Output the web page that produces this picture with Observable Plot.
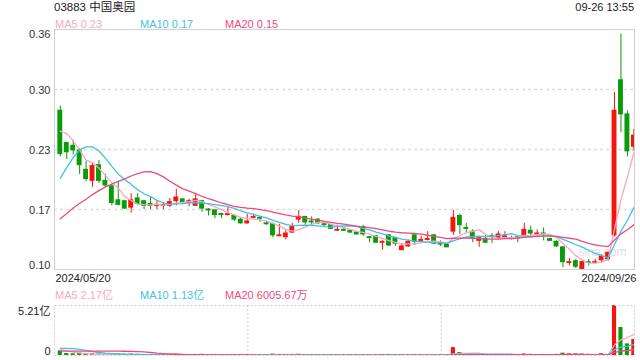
<!DOCTYPE html>
<html><head><meta charset="utf-8">
<script src="https://cdn.jsdelivr.net/npm/d3@7"></script>
<script src="https://cdn.jsdelivr.net/npm/@observablehq/plot@0.6"></script>
<style>
body{margin:0;background:#fff;font-family:"Liberation Sans",Arial,"Noto Sans CJK SC",sans-serif;}
#wrap{position:relative;width:640px;height:360px;overflow:hidden;background:#fff;}
#wrap svg{position:absolute;left:0;}
.t{position:absolute;white-space:nowrap;font-size:11px;line-height:12px;z-index:2;}
</style></head><body><div id="wrap"></div>
<script>
// ---------- data ----------
const title = "03883 中国奥园";
const timeLabel = "09-26 13:55";
const maNames = ["MA5", "MA10", "MA20"];
const priceMaValues = ["0.23", "0.17", "0.15"];
const volMaValues = ["2.17亿", "1.13亿", "6005.67万"];
const dateLabels = ["2024/05/20", "2024/09/26"];
const priceTicks = [0.10, 0.165, 0.23, 0.295, 0.36];
const priceTickLabels = ["0.10", "0.17", "0.23", "0.30", "0.36"];
const volTicks = [0, 5.21];
const volTickLabels = ["0", "5.21亿"];
const watermark = "sina.com";

const opens = [.272,.237,.234,.229,.208,.196,.213,.196,.190,.175, .174,.167,.177,.174,.171,.169,.169,.169,.174,.176,
 .172,.169,.174,.165,.164,.160,.159,.158,.154,.150, .156,.156,.150,.149,.136,.135,.140,.154,.157,.152,
 .154,.149,.148,.142,.143,.142,.140,.146,.135,.136, .129,.137,.134,.121,.125,.137,.131,.132,.137,.128,
 .127,.141,.158,.145,.141,.131,.133,.136,.134,.135, .133,.135,.137,.142,.138,.139,.133,.130,.124,.107,
 .109,.100,.108,.107,.110,.111,.137,.305,.268,.233];
const highs = [.277,.238,.240,.231,.217,.215,.218,.203,.191,.195, .175,.182,.182,.174,.179,.174,.172,.177,.187,.176,
 .176,.182,.175,.166,.165,.161,.167,.159,.156,.160, .160,.158,.152,.150,.149,.142,.150,.164,.157,.157,
 .155,.151,.149,.148,.145,.143,.141,.148,.135,.137, .131,.138,.135,.128,.132,.138,.136,.141,.138,.131,
 .128,.164,.160,.150,.143,.135,.137,.139,.141,.141, .136,.136,.150,.147,.143,.145,.134,.131,.125,.112,
 .111,.109,.111,.111,.116,.119,.292,.355,.272,.252];
const lows = [.222,.219,.224,.203,.195,.189,.193,.189,.169,.169, .165,.161,.169,.165,.165,.165,.165,.167,.169,.170,
 .168,.169,.162,.158,.155,.155,.158,.152,.149,.149, .155,.151,.148,.134,.136,.132,.139,.150,.148,.147,
 .149,.147,.143,.141,.141,.139,.137,.136,.129,.128, .121,.125,.125,.120,.124,.126,.130,.131,.127,.125,
 .124,.137,.138,.140,.129,.124,.128,.128,.132,.133, .132,.129,.136,.135,.136,.131,.130,.124,.102,.104,
 .101,.100,.104,.106,.107,.109,.135,.248,.222,.228];
const closes = [.225,.227,.229,.213,.198,.212,.196,.191,.172,.170, .166,.175,.171,.169,.169,.170,.170,.173,.178,.173,
 .174,.176,.166,.164,.159,.159,.160,.154,.150,.152, .157,.155,.149,.137,.137,.139,.146,.157,.151,.151,
 .150,.148,.144,.143,.142,.140,.138,.138,.134,.129, .130,.126,.128,.125,.130,.130,.132,.133,.128,.127,
 .124,.156,.148,.144,.134,.134,.129,.135,.138,.136, .134,.134,.143,.139,.139,.138,.131,.125,.108,.108,
 .103,.108,.107,.108,.114,.118,.272,.268,.228,.245];
// volumes in 亿
const volumes = [0.42,0.15,0.12,0.18,0.14,0.12,0.10,0.08,0.15,0.10, 0.08,0.09,0.06,0.05,0.05,0.04,0.04,0.05,0.08,0.04,
 0.03,0.05,0.06,0.04,0.05,0.04,0.04,0.05,0.05,0.04, 0.03,0.03,0.03,0.08,0.05,0.04,0.05,0.07,0.04,0.03,
 0.03,0.02,0.03,0.02,0.02,0.02,0.02,0.03,0.03,0.04, 0.04,0.05,0.04,0.04,0.03,0.04,0.02,0.02,0.03,0.02,
 0.03,0.76,0.25,0.08,0.10,0.06,0.05,0.04,0.05,0.03, 0.03,0.04,0.10,0.06,0.04,0.05,0.04,0.06,0.18,0.11,
 0.12,0.10,0.06,0.05,0.12,0.04,5.21,2.85,1.15,1.60];
// sessions before the visible window (for the moving averages)
const preCloses = [.110,.111,.112,.110,.112,.111,.110,.112,.111,.111, .112,.120,.130,.165,.213, .240,.268,.262,.254];
const preVolumes = [0.15,0.12,0.18,0.10,0.20,0.15,0.12,0.10,0.15,0.20, 0.30,0.50,0.80,1.20,1.50, 1.00,0.80,0.60,0.50];
const maPeriods = [5, 10, 20];

// ---------- styles ----------
const RED = "#f3160d", GREEN = "#0a9b0a";
const MA_COLORS = ["#f8a6c4", "#3fc2e2", "#ec4b7e"];
const FONT = '"Liberation Sans", Arial, "Noto Sans CJK SC", sans-serif';

const candles = opens.map((o, i) => ({i, open: o, high: highs[i], low: lows[i], close: closes[i], vol: volumes[i]}));
const up = candles.filter(d => d.close >= d.open);
const dn = candles.filter(d => d.close < d.open);

function movingAvg(series, pre, n) {
  const all = pre.concat(series);
  return series.map((_, i) => ({i, v: d3.mean(all.slice(i + pre.length - n + 1, i + pre.length + 1))}));
}
const n = candles.length;
const xDomain = [-0.9, n - 0.9];
const priceMAs = maPeriods.map(p => movingAvg(closes, preCloses, p));
const volMAs = maPeriods.map(p => movingAvg(volumes, preVolumes, p));

const wrap = document.getElementById("wrap");
const tickData = priceTicks.map((v, k) => ({v, label: priceTickLabels[k], k}));
const last = priceTicks.length - 1;

const main = Plot.plot({
  width: 640, height: 290,
  marginTop: 29, marginBottom: 21, marginLeft: 54, marginRight: 6,
  x: {domain: xDomain, axis: null},
  y: {domain: [priceTicks[0], priceTicks[last]], axis: null},
  style: {fontFamily: FONT, fontSize: "11px", background: "transparent", color: "#333"},
  marks: [
    Plot.ruleY(priceTicks.slice(1, -1), {stroke: "#dcdcdc", strokeWidth: 1.5, strokeDasharray: "3,3"}),
    Plot.text([watermark], {frameAnchor: "bottom-right", dx: -8, dy: -14, fill: "#dedede", fontSize: 12}),
    Plot.ruleX(up, {x: "i", y1: "low", y2: "high", stroke: RED, clip: "frame"}),
    Plot.ruleX(dn, {x: "i", y1: "low", y2: "high", stroke: GREEN, clip: "frame"}),
    Plot.rect(up, {x1: d => d.i - 0.38, x2: d => d.i + 0.38, y1: "open", y2: "close", fill: RED, insetTop: -0.5, insetBottom: -0.5, clip: "frame"}),
    Plot.rect(dn, {x1: d => d.i - 0.38, x2: d => d.i + 0.38, y1: "open", y2: "close", fill: GREEN, insetTop: -0.5, insetBottom: -0.5, clip: "frame"}),
    ...priceMAs.map((m, k) => Plot.line(m, {x: "i", y: "v", stroke: MA_COLORS[k], strokeWidth: 1.3, clip: "frame"})),
    Plot.frame({stroke: "#cfcfcf"}),
    Plot.text(tickData.filter(d => d.k === last), {y: "v", text: "label", frameAnchor: "left", dx: -4, textAnchor: "end", lineAnchor: "top", dy: 1, fill: "#333"}),
    Plot.text(tickData.filter(d => d.k > 0 && d.k < last), {y: "v", text: "label", frameAnchor: "left", dx: -4, textAnchor: "end", lineAnchor: "middle", dy: 1, fill: "#333"}),
    Plot.text(tickData.filter(d => d.k === 0), {y: "v", text: "label", frameAnchor: "left", dx: -4, textAnchor: "end", lineAnchor: "bottom", dy: -1, fill: "#333"}),
    Plot.text([dateLabels[0]], {frameAnchor: "bottom-left", textAnchor: "start", lineAnchor: "top", dx: 1, dy: 5, fill: "#222"}),
    Plot.text([dateLabels[1]], {frameAnchor: "bottom-right", textAnchor: "end", lineAnchor: "top", dx: 2, dy: 5, fill: "#222"})
  ]
});
main.style.top = "0px";
wrap.appendChild(main);

const volTickData = volTicks.map((v, k) => ({v, label: volTickLabels[k], k}));
const vol = Plot.plot({
  width: 640, height: 70,
  marginTop: 15, marginBottom: 5, marginLeft: 54, marginRight: 6,
  x: {domain: xDomain, axis: null},
  y: {domain: [volTicks[0], volTicks[1]], axis: null},
  style: {fontFamily: FONT, fontSize: "11px", background: "transparent", color: "#333"},
  marks: [
    Plot.ruleX([xDomain[0] + n / 3, xDomain[0] + 2 * n / 3], {stroke: "#cfcfcf", strokeDasharray: "2,2"}),
    Plot.rect(up, {x1: d => d.i - 0.32, x2: d => d.i + 0.32, y1: 0, y2: "vol", fill: RED, insetTop: -0.6, clip: "frame"}),
    Plot.rect(dn, {x1: d => d.i - 0.32, x2: d => d.i + 0.32, y1: 0, y2: "vol", fill: GREEN, insetTop: -0.6, clip: "frame"}),
    ...volMAs.map((m, k) => Plot.line(m, {x: "i", y: "v", stroke: MA_COLORS[k], strokeWidth: 1.3, clip: "frame"})),
    Plot.frame({stroke: "#cfcfcf", strokeDasharray: "2,2"}),
    Plot.text(volTickData.filter(d => d.k === 1), {y: "v", text: "label", frameAnchor: "left", dx: -4, textAnchor: "end", lineAnchor: "top", dy: 2, fill: "#222"}),
    Plot.text(volTickData.filter(d => d.k === 0), {y: "v", text: "label", frameAnchor: "left", dx: -4, textAnchor: "end", lineAnchor: "bottom", dy: -1, fill: "#222"})
  ]
});
vol.style.top = "290px";
wrap.appendChild(vol);

function addText(txt, css) {
  const d = document.createElement("div");
  d.className = "t";
  d.textContent = txt;
  Object.assign(d.style, css);
  wrap.appendChild(d);
}
addText(title, {left: "54px", top: "1px", color: "#222", fontSize: "11.5px"});
addText(timeLabel, {right: "6px", top: "1px", color: "#222"});
const legendX = [55, 140, 225];
maNames.forEach((nm, k) => {
  addText(nm + " " + priceMaValues[k], {left: legendX[k] + "px", top: "18px", color: MA_COLORS[k]});
  addText(nm + " " + volMaValues[k], {left: legendX[k] + "px", top: "289px", color: MA_COLORS[k]});
});
</script></body></html>
